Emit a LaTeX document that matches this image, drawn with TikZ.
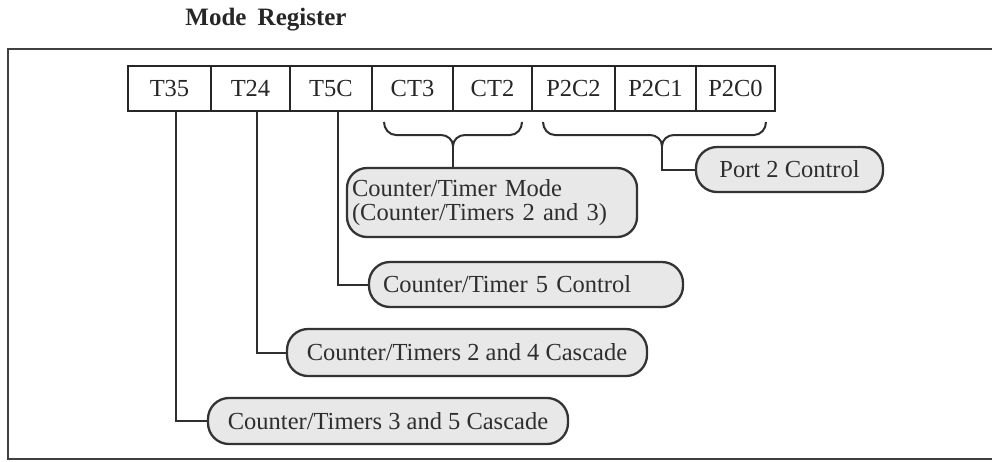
\documentclass[tikz,border=0pt]{standalone}
\usepackage{fontspec}
\setmainfont{Liberation Serif}
\begin{document}
\begin{tikzpicture}[x=1pt,y=-1pt,
  cell/.style={draw=black!85,line width=1.7pt,minimum height=45pt,inner sep=0pt,
    font=\fontsize{24.5}{25}\selectfont,text=black!85},
  pill/.style={draw=black!80,line width=2.3pt,fill=black!9,rounded corners=21pt,
    inner sep=0pt,font=\fontsize{24.5}{24}\selectfont,text=black!82},
  link/.style={draw=black!82,line width=2pt},
  bracepath/.style={draw=black!82,line width=2pt}]
\useasboundingbox (0,0) rectangle (992,461);

% title
\node[font=\fontsize{25}{25}\selectfont\bfseries,text=black!85] (title) at (266,20) {Mode\hspace{0.45em}Register};

% outer frame
\draw[black!75,line width=1.8pt] (992,49) -- (8,49) -- (8,459) -- (992,459);

% register cells
\node[cell,minimum width=83pt] (r1) at (169.5,88.5) {T35};
\node[cell,minimum width=79pt] (r2) at (250.5,88.5) {T24};
\node[cell,minimum width=82pt] (r3) at (331,88.5) {T5C};
\node[cell,minimum width=81pt] (r4) at (412.5,88.5) {CT3};
\node[cell,minimum width=79pt] (r5) at (492.5,88.5) {CT2};
\node[cell,minimum width=83pt] (r6) at (573.5,88.5) {P2C2};
\node[cell,minimum width=81pt] (r7) at (655.5,88.5) {P2C1};
\node[cell,minimum width=79pt] (r8) at (735.5,88.5) {P2C0};

% field descriptions
\node[pill,minimum width=187pt,minimum height=45pt] (port) at (789.5,169.5) {Port 2 Control};
\node[pill,minimum width=290pt,minimum height=69pt,text width=280pt,align=left,rounded corners=20pt] (mode) at (492,202.5)
  {Counter/Timer Mode\\(Counter/Timers 2 and 3)};
\node[pill,minimum width=314pt,minimum height=45pt,text width=286pt,align=left] (c5) at (526,284.5) {Counter/Timer 5 Control};
\node[pill,minimum width=360pt,minimum height=47pt] (c24) at (467,352.5) {Counter/Timers 2 and 4 Cascade};
\node[pill,minimum width=360pt,minimum height=46pt] (c35) at (388,421) {Counter/Timers 3 and 5 Cascade};

% braces under the grouped bits
\coordinate (ctip) at (453,146);
\coordinate (ptip) at (662,146);
\draw[bracepath] (384,122) to[out=-90,in=180] (396,135) -- (441,135) to[out=0,in=90] (ctip);
\draw[bracepath] (522,122) to[out=-90,in=0] (510,135) -- (465,135) to[out=180,in=90] (ctip);
\draw[bracepath] (543,122) to[out=-90,in=180] (555,135) -- (650,135) to[out=0,in=90] (ptip);
\draw[bracepath] (766,122) to[out=-90,in=0] (754,135) -- (674,135) to[out=180,in=90] (ptip);

% connectors
\draw[link] (ctip) -- (ctip |- mode.north);
\draw[link] (ptip) |- (port.west);
\draw[link] ([xshift=6.5pt]r3.south) |- (c5.west);
\draw[link] ([xshift=6.5pt]r2.south) |- (c24.west);
\draw[link] ([xshift=6.5pt]r1.south) |- (c35.west);
\end{tikzpicture}
\end{document}
